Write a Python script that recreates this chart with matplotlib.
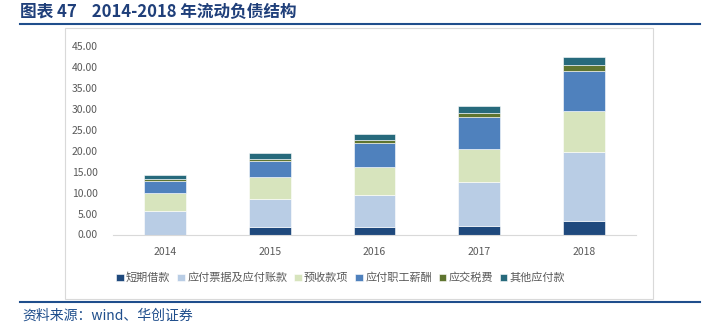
import matplotlib.pyplot as plt
import numpy as np
from matplotlib.patches import Rectangle

plt.rcParams["font.family"] = ["Noto Sans CJK SC", "DejaVu Sans"]

# Data (units as shown on axis)
years = ["2014", "2015", "2016", "2017", "2018"]
series_names = ["短期借款", "应付票据及应付账款", "预收款项", "应付职工薪酬", "应交税费", "其他应付款"]
short_loans = [0.0, 1.9, 1.8, 2.0, 3.2]
payables = [5.6, 6.5, 7.65, 10.55, 16.5]
advances = [4.2, 5.2, 6.55, 7.75, 9.8]
salaries = [2.9, 3.9, 5.7, 7.6, 9.5]
taxes = [0.5, 0.4, 0.9, 1.05, 1.3]
other_payables = [0.95, 1.6, 1.4, 1.75, 1.9]
colors = ["#1F497D", "#B9CDE5", "#D7E4BD", "#4F81BD", "#5F7530", "#276A7C"]

W, H = 710, 329
fig = plt.figure(figsize=(W / 100, H / 100), dpi=100)

# title and frame lines
fig.text(20 / W, 1 - 12 / H, "图表 47    2014-2018 年流动负债结构", fontsize=12,
         fontweight="bold", color="#1F3F7A", va="center", ha="left")
fig.add_artist(plt.Line2D([20 / W, 700 / W], [1 - 24 / H] * 2, color="#1F4E8C", lw=1.5))
fig.add_artist(plt.Line2D([20 / W, 700 / W], [1 - 302 / H] * 2, color="#1F4E8C", lw=1.5))
fig.add_artist(Rectangle((65 / W, 1 - 299 / H), (653 - 65) / W, (299 - 28) / H,
                         transform=fig.transFigure, fill=False, ec="#D9D9D9", lw=0.8))
fig.text(22 / W, 1 - 316 / H, "资料来源：wind、华创证券", fontsize=10, style="italic",
         color="#1F4E8C", va="center", ha="left")

ax = fig.add_axes([113 / W, 1 - 234.5 / H, (636 - 113) / W, (234.5 - 45.7) / H])
x = np.arange(len(years))
bottom = np.zeros(len(years))
for name, vals, c in zip(series_names,
                         [short_loans, payables, advances, salaries, taxes, other_payables],
                         colors):
    ax.bar(x, vals, 0.4, bottom=bottom, color=c, edgecolor="white", linewidth=0.4, label=name)
    bottom += np.array(vals)

ax.set_xlim(-0.5, 4.5)
ax.set_ylim(0, 45)
ax.set_yticks(np.arange(0, 46, 5))
ax.set_yticklabels([f"{v:.2f}" for v in np.arange(0, 46, 5)])
ax.set_xticks(x)
ax.set_xticklabels(years)
ax.tick_params(axis="both", length=0, labelsize=7.5, labelcolor="#595959")
ax.tick_params(axis="y", pad=11)
ax.tick_params(axis="x", pad=9)
for s in ["left", "right", "top"]:
    ax.spines[s].set_visible(False)
ax.spines["bottom"].set_color("#D9D9D9")

fig.legend(loc="center left", bbox_to_anchor=(106 / W, 1 - 278 / H), ncol=6, frameon=False,
           fontsize=8, handlelength=0.7, handleheight=0.7, handletextpad=0.2,
           columnspacing=0.6, labelcolor="#595959")

fig.savefig("out.png", dpi=100)
